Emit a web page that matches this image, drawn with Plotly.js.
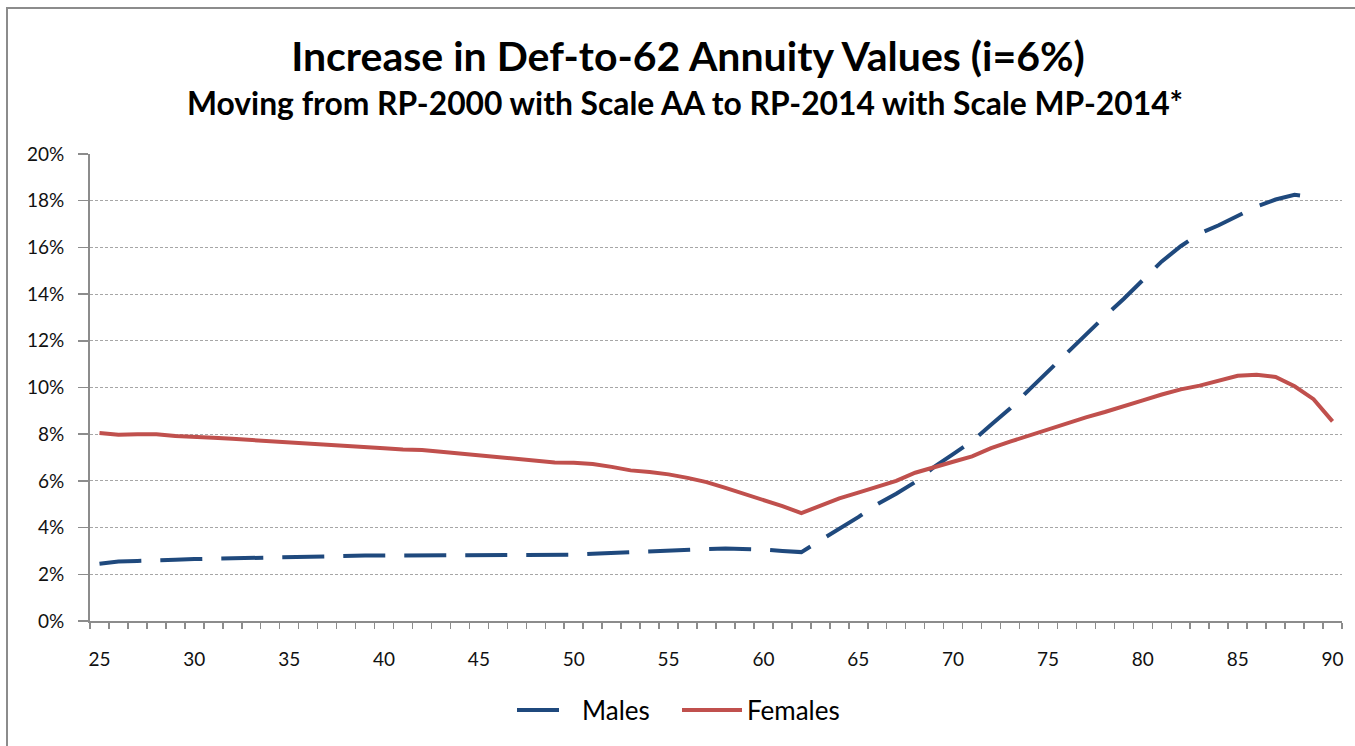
<!DOCTYPE html>
<html>
<head>
<meta charset="utf-8">
<script src="https://cdn.plot.ly/plotly-3.0.1.min.js"></script>
<style>
  html, body { margin: 0; padding: 0; background: #fff; }
  #chart { width: 1355px; height: 746px; }
</style>
</head>
<body>
<div id="chart"></div>
<script>
const ages = [];
for (let a = 25; a <= 90; a++) ages.push(a);

const malesAges = ages.slice(0, 65); // 25..89
const males = [
  2.45, 2.55, 2.57, 2.58, 2.62, 2.65, 2.67, 2.70, 2.72, 2.73,
  2.74, 2.75, 2.77, 2.79, 2.80, 2.80, 2.80, 2.80, 2.80, 2.80,
  2.80, 2.80, 2.80, 2.80, 2.82, 2.84, 2.88, 2.92, 2.94, 2.97,
  3.00, 3.05, 3.08, 3.10, 3.10, 3.06, 3.00, 2.95, 3.45, 3.95,
  4.45, 5.00, 5.45, 5.95, 6.60, 7.15, 7.70, 8.40, 9.10, 9.90,
  10.70, 11.45, 12.25, 13.05, 13.80, 14.60, 15.40, 16.05, 16.60, 16.95,
  17.35, 17.75, 18.05, 18.25, 18.15
];

const females = [
  8.05, 7.98, 8.00, 8.00, 7.92, 7.90, 7.85, 7.80, 7.75, 7.72,
  7.68, 7.64, 7.56, 7.50, 7.48, 7.40, 7.34, 7.32, 7.25, 7.17,
  7.10, 7.03, 6.95, 6.86, 6.79, 6.78, 6.72, 6.60, 6.45, 6.38,
  6.28, 6.13, 5.95, 5.70, 5.45, 5.20, 4.92, 4.62, 4.95, 5.25,
  5.50, 5.75, 6.00, 6.35, 6.60, 6.82, 7.05, 7.40, 7.68, 7.95,
  8.20, 8.45, 8.72, 8.95, 9.18, 9.45, 9.70, 9.92, 10.08, 10.28,
  10.50, 10.55, 10.45, 10.05, 9.50, 8.55
];

const xTickVals = [25, 30, 35, 40, 45, 50, 55, 60, 65, 70, 75, 80, 85, 90];
const yTickVals = [0, 0.02, 0.04, 0.06, 0.08, 0.10, 0.12, 0.14, 0.16, 0.18, 0.20];

const FONT = 'Lato, "Open Sans", "DejaVu Sans", sans-serif';

const traces = [
  {
    x: malesAges,
    y: males.map(v => v / 100),
    name: 'Males',
    type: 'scatter',
    mode: 'lines',
    line: { color: '#1F497D', width: 4, dash: '42px,19px' }
  },
  {
    x: ages,
    y: females.map(v => v / 100),
    name: 'Females',
    type: 'scatter',
    mode: 'lines',
    line: { color: '#C0504D', width: 4 }
  }
];

const layout = {
  width: 1355,
  height: 746,
  margin: { l: 90, r: 13, t: 154, b: 125 },
  paper_bgcolor: '#ffffff',
  plot_bgcolor: '#ffffff',
  font: { family: FONT, color: '#000' },
  showlegend: true,
  title: {
    text: '<b>Increase in Def-to-62 Annuity Values (i=6%)</b>',
    font: { family: FONT, size: 41, color: '#000' },
    x: (688 - 90) / 1252, xanchor: 'center', xref: 'paper',
    y: 1 - 57 / 746, yanchor: 'middle', yref: 'container'
  },
  annotations: [
    {
      text: '<b>Moving from RP-2000 with Scale AA to RP-2014 with Scale MP-2014*</b>',
      xref: 'paper', yref: 'paper',
      x: (685 - 90) / 1252, y: (621 - 103) / 467,
      xanchor: 'center', yanchor: 'middle',
      showarrow: false,
      font: { family: FONT, size: 31.8, color: '#000' }
    }
  ],
  xaxis: {
    range: [24.5, 90.5],
    tickmode: 'array',
    tickvals: xTickVals,
    ticktext: xTickVals.map(String),
    ticks: '',
    ticklabelstandoff: 20,
    showgrid: false,
    zeroline: false,
    showline: true,
    linecolor: '#8c8c8c',
    linewidth: 2,
    tickfont: { family: FONT, size: 19, color: '#111' },
    minor: {
      ticks: 'outside',
      tick0: 24.5,
      dtick: 1,
      ticklen: 6,
      tickwidth: 1.5,
      tickcolor: '#8c8c8c',
      showgrid: false
    },
    fixedrange: true
  },
  yaxis: {
    range: [0, 0.2],
    tickmode: 'array',
    tickvals: yTickVals,
    tickformat: '.0%',
    ticks: 'outside',
    ticklen: 10,
    tickwidth: 1.5,
    tickcolor: '#8c8c8c',
    ticklabelstandoff: 10,
    showgrid: true,
    gridcolor: '#a6a6a6',
    gridwidth: 1,
    griddash: '3px,2px',
    zeroline: false,
    showline: true,
    linecolor: '#8c8c8c',
    linewidth: 2,
    tickfont: { family: FONT, size: 19, color: '#111' },
    fixedrange: true
  },
  legend: {
    orientation: 'h',
    x: (677 - 90) / 1252, xanchor: 'center',
    y: (621 - 710) / 467, yanchor: 'middle',
    font: { family: FONT, size: 26, color: '#000' },
    itemwidth: 60,
    entrywidth: 90,
    entrywidthmode: 'pixels',
    traceorder: 'normal',
    bgcolor: 'rgba(0,0,0,0)'
  },
  shapes: [
    {
      type: 'rect', xref: 'paper', yref: 'paper',
      x0: (7 - 90) / 1252, x1: 1.2,
      y0: -0.5, y1: (621 - 8) / 467,
      line: { color: '#8c8c8c', width: 2 },
      fillcolor: 'rgba(0,0,0,0)',
      layer: 'below'
    }
  ]
};

Plotly.newPlot('chart', traces, layout, { displayModeBar: false, staticPlot: true });
</script>
</body>
</html>
